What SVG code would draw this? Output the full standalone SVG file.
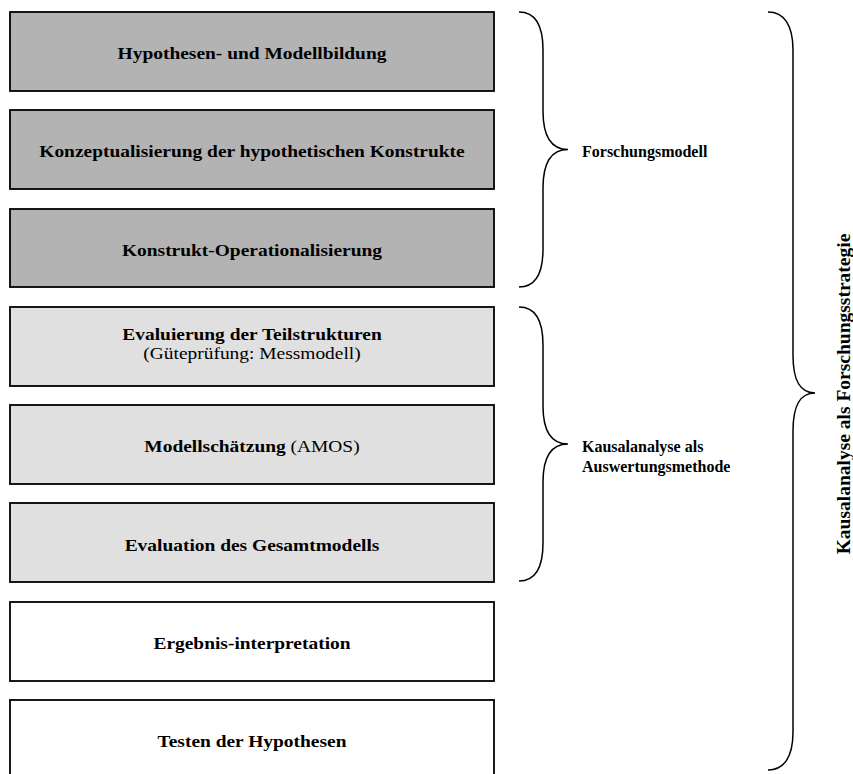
<svg xmlns="http://www.w3.org/2000/svg" width="853" height="774" viewBox="0 0 853 774">
  <style>
    .box { stroke: #000; stroke-width: 1.8; }
    .dark { fill: #b3b3b3; }
    .light { fill: #e0e0e0; }
    .white { fill: #ffffff; }
    .t { font-family: "Liberation Serif", "Times New Roman", serif; font-size: 17px; font-weight: bold; fill: #000; text-anchor: middle; }
    .n { font-weight: normal; }
    .lbl { font-family: "Liberation Serif", "Times New Roman", serif; font-size: 16px; font-weight: bold; fill: #000; }
    .vlbl { font-family: "Liberation Serif", "Times New Roman", serif; font-size: 19.5px; font-weight: bold; fill: #000; text-anchor: middle; }
    .brace { fill: none; stroke: #000; stroke-width: 1.5; }
  </style>
  <rect width="853" height="774" fill="#fff"/>

  <!-- box captions are set slightly wide (horizontal scale 1.143) -->
  <g id="n1"><rect class="box dark" x="10" y="12" width="484" height="79"/><text class="t" transform="translate(252,59) scale(1.143,1)">Hypothesen- und Modellbildung</text></g>
  <g id="n2"><rect class="box dark" x="10" y="110" width="484" height="79"/><text class="t" transform="translate(252,157) scale(1.143,1)">Konzeptualisierung der hypothetischen Konstrukte</text></g>
  <g id="n3"><rect class="box dark" x="10" y="209" width="484" height="78"/><text class="t" transform="translate(252,256) scale(1.143,1)">Konstrukt-Operationalisierung</text></g>
  <g id="n4"><rect class="box light" x="10" y="307" width="484" height="79"/><text class="t" transform="translate(252,340) scale(1.143,1)">Evaluierung der Teilstrukturen</text><text class="t n" transform="translate(252,359) scale(1.143,1)">(Güteprüfung: Messmodell)</text></g>
  <g id="n5"><rect class="box light" x="10" y="405" width="484" height="79"/><text class="t" transform="translate(252,452) scale(1.143,1)">Modellschätzung <tspan class="n">(AMOS)</tspan></text></g>
  <g id="n6"><rect class="box light" x="10" y="503" width="484" height="79"/><text class="t" transform="translate(252,551) scale(1.143,1)">Evaluation des Gesamtmodells</text></g>
  <g id="n7"><rect class="box white" x="10" y="602" width="484" height="79"/><text class="t" transform="translate(252,649) scale(1.143,1)">Ergebnis-interpretation</text></g>
  <g id="n8"><rect class="box white" x="10" y="700" width="484" height="79"/><text class="t" transform="translate(252,747) scale(1.143,1)">Testen der Hypothesen</text></g>

  <g id="connectors">
    <path class="brace" d="M519,12 C535,12 543,25 543,50 L543,111 C543,137 552,149.5 568,149.5 C552,149.5 543,162 543,188 L543,249 C543,274 535,287 519,287"/>
    <path class="brace" d="M519,307 C535,307 543,320 543,345 L543,406 C543,432 552,444 568,444 C552,444 543,456 543,482 L543,543 C543,568 535,581 519,581"/>
    <path class="brace" d="M768,12 C784,12 793,25 793,50 L793,355 C793,381 800,393 815,393 C800,393 793,405 793,431 L793,732 C793,757 784,770 768,770"/>
  </g>

  <g id="labels">
    <text class="lbl" x="582" y="157">Forschungsmodell</text>
    <text class="lbl" x="582" y="452">Kausalanalyse als</text>
    <text class="lbl" x="582" y="472">Auswertungsmethode</text>
    <text class="vlbl" transform="translate(850,394) rotate(-90)">Kausalanalyse als Forschungsstrategie</text>
  </g>
</svg>
